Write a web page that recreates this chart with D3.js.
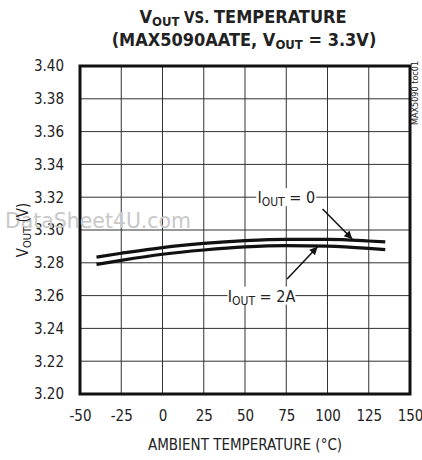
<!DOCTYPE html>
<html>
<head>
<meta charset="utf-8">
<script src="https://cdn.jsdelivr.net/npm/d3@7"></script>
<style>
  body { margin: 0; background: #fff; }
  text { font-family: "Liberation Sans Narrow", "DejaVu Sans Condensed", sans-serif; fill: #222; }
</style>
</head>
<body>
<div id="chart"></div>
<script>
// temperatures (°C)
const temps = [-40, -25, 0, 25, 50, 75, 100, 125, 135]
// VOUT at IOUT = 0 (upper curve)
const vout0 = [3.2835, 3.2858, 3.2893, 3.2918, 3.2935, 3.2943, 3.2943, 3.2933, 3.2927]
// VOUT at IOUT = 2A (lower curve)
const vout2A = [3.279, 3.2815, 3.2852, 3.2878, 3.2897, 3.2905, 3.2902, 3.2888, 3.288]
const xTicks = [-50, -25, 0, 25, 50, 75, 100, 125, 150]
const yTicks = [3.2, 3.22, 3.24, 3.26, 3.28, 3.3, 3.32, 3.34, 3.36, 3.38, 3.4]

const W = 422, H = 460
const margin = { top: 66, right: 12, bottom: 66, left: 80 },
  width = W - margin.left - margin.right,
  height = H - margin.top - margin.bottom

const svg = d3.select('#chart').append('svg').attr('width', W).attr('height', H)

// title
const t1 = svg.append('text').attr('x', 243).attr('y', 23).attr('text-anchor', 'middle')
  .attr('font-weight', 'bold').attr('font-size', 18)
t1.append('tspan').text('V')
t1.append('tspan').attr('font-size', 13).attr('dy', 3).text('OUT')
t1.append('tspan').attr('dy', -3).attr('font-size', 15).text(' VS. ')
t1.append('tspan').text('TEMPERATURE')
const t2 = svg.append('text').attr('x', 244).attr('y', 46).attr('text-anchor', 'middle')
  .attr('font-weight', 'bold').attr('font-size', 18)
t2.append('tspan').text('(MAX5090AATE, V')
t2.append('tspan').attr('font-size', 13).attr('dy', 3).text('OUT')
t2.append('tspan').attr('dy', -3).text(' = 3.3V)')

const g = svg.append('g').attr('transform', `translate(${margin.left}, ${margin.top})`)

const x = d3.scaleLinear().domain([-50, 150]).range([0, width])
const y = d3.scaleLinear().domain([3.2, 3.4]).range([height, 0])

// grid
g.append('g').selectAll('line').data(xTicks).join('line')
  .attr('x1', d => x(d)).attr('x2', d => x(d)).attr('y1', 0).attr('y2', height)
  .attr('stroke', '#333').attr('stroke-width', 1)
g.append('g').selectAll('line').data(yTicks).join('line')
  .attr('y1', d => y(d)).attr('y2', d => y(d)).attr('x1', 0).attr('x2', width)
  .attr('stroke', '#333').attr('stroke-width', 1)

// axes labels
const xAxis = g.append('g').attr('transform', `translate(0, ${height})`)
  .call(d3.axisBottom(x).tickValues(xTicks).tickSize(0).tickPadding(16).tickFormat(d => String(d)))
const yAxis = g.append('g')
  .call(d3.axisLeft(y).tickValues(yTicks).tickSize(0).tickPadding(16).tickFormat(d3.format('.2f')))
for (const a of [xAxis, yAxis]) {
  a.select('.domain').remove()
  a.selectAll('text').attr('font-size', 15).attr('fill', '#222')
    .attr('font-family', '"Liberation Sans Narrow", "DejaVu Sans Condensed", sans-serif')
}

// watermark
svg.append('text').attr('x', 5).attr('y', 228).attr('font-size', 21)
  .attr('textLength', 186).attr('lengthAdjust', 'spacingAndGlyphs')
  .attr('font-family', 'Liberation Sans, sans-serif').style('fill', '#c8c8c8')
  .text('DataSheet4U.com')

// label background boxes over grid
const label = (cx, cy, w, sub, rest) => {
  g.append('rect').attr('x', cx - w / 2).attr('y', cy - 9).attr('width', w).attr('height', 18).attr('fill', '#fff')
  const t = g.append('text').attr('x', cx).attr('y', cy + 6).attr('text-anchor', 'middle').attr('font-size', 16)
  t.append('tspan').text('I')
  t.append('tspan').attr('font-size', 12).attr('dy', 3).text(sub)
  t.append('tspan').attr('dy', -3).text(rest)
}

// curves
const line = d3.line().x((d, i) => x(temps[i])).y(d => y(d)).curve(d3.curveMonotoneX)
g.append('path').attr('d', line(vout0)).attr('fill', 'none').attr('stroke', '#111').attr('stroke-width', 3.2)
g.append('path').attr('d', line(vout2A)).attr('fill', 'none').attr('stroke', '#111').attr('stroke-width', 3.2)

label(x(75), y(3.32), 60, 'OUT', ' = 0')
label(x(60), y(3.26), 68, 'OUT', ' = 2A')

// arrows
const defs = svg.append('defs')
defs.append('marker').attr('id', 'arr').attr('viewBox', '0 0 10 10').attr('refX', 10).attr('refY', 5)
  .attr('markerWidth', 12).attr('markerHeight', 8).attr('markerUnits', 'userSpaceOnUse').attr('orient', 'auto')
  .append('path').attr('d', 'M0,0L10,5L0,10Z').attr('fill', '#111')
g.append('line').attr('x1', x(97)).attr('y1', y(3.3128)).attr('x2', x(115)).attr('y2', y(3.2945))
  .attr('stroke', '#111').attr('stroke-width', 1.5).attr('marker-end', 'url(#arr)')
g.append('line').attr('x1', x(75.5)).attr('y1', y(3.2701)).attr('x2', x(94)).attr('y2', y(3.2898))
  .attr('stroke', '#111').attr('stroke-width', 1.5).attr('marker-end', 'url(#arr)')

// frame
g.append('rect').attr('width', width).attr('height', height).attr('fill', 'none')
  .attr('stroke', '#111').attr('stroke-width', 3)

// axis titles
svg.append('text').attr('x', 245).attr('y', 450).attr('text-anchor', 'middle').attr('font-size', 15)
  .text('AMBIENT TEMPERATURE (°C)')
const yt = svg.append('text').attr('transform', `translate(28, ${margin.top + y(3.3)}) rotate(-90)`)
  .attr('text-anchor', 'middle').attr('font-size', 15)
yt.append('tspan').text('V')
yt.append('tspan').attr('font-size', 11).attr('dy', 3).text('OUT')
yt.append('tspan').attr('dy', -3).text(' (V)')

svg.append('text').attr('transform', 'translate(418, 125) rotate(-90)').attr('font-size', 9)
  .attr('font-family', 'Liberation Sans, sans-serif').text('MAX5090 toc01')
</script>
</body>
</html>
